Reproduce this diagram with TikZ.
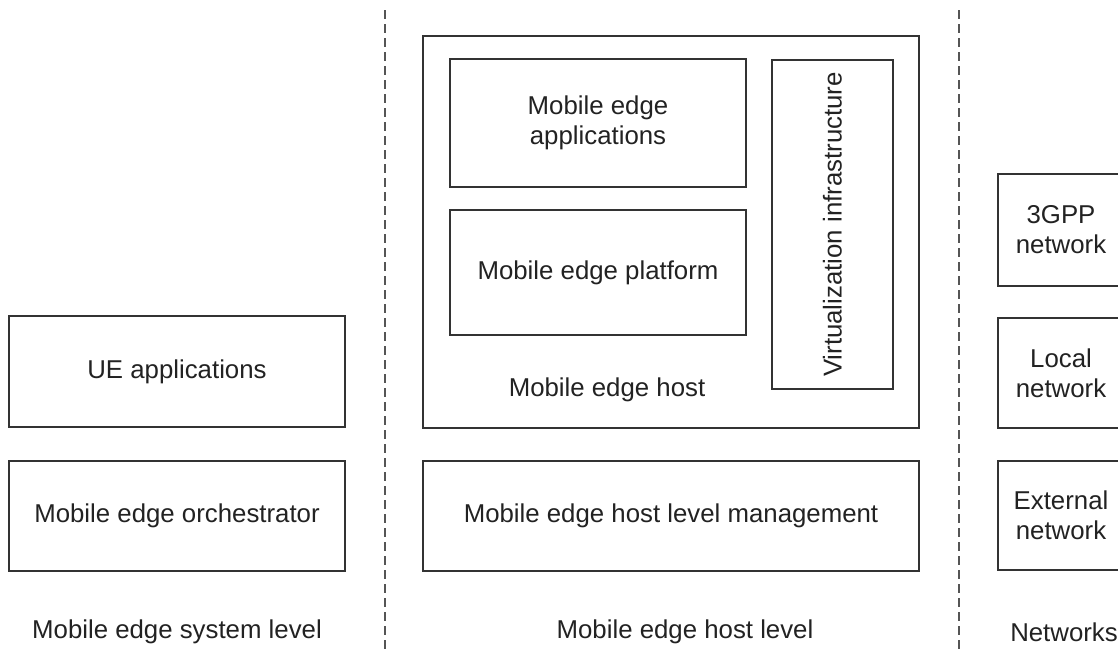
\documentclass[tikz,border=0pt]{standalone}
\usepackage{fontspec}
\setmainfont{Liberation Sans}
\begin{document}
\begin{tikzpicture}[x=1pt,y=-1pt,
  box/.style={draw=linegray,line width=1.8pt,text=txtgray,align=center,inner sep=0pt,
    font=\fontsize{25.8}{30}\selectfont},
  lbl/.style={text=txtgray,inner sep=0pt,font=\fontsize{25.8}{30}\selectfont},
  sep/.style={draw=dashgray,line width=1.4pt,dash pattern=on 9pt off 5pt}]
\definecolor{linegray}{HTML}{333333}
\definecolor{txtgray}{HTML}{222222}
\definecolor{dashgray}{HTML}{555555}
\clip (0,0) rectangle (1118,653);
\fill[white] (0,0) rectangle (1118,653);
% separators
\coordinate (s1t) at (385,10);
\coordinate (s1b) at (385,653);
\coordinate (s2t) at (959,10);
\coordinate (s2b) at (959,653);
\draw[sep] (s1t) -- (s1b);
\draw[sep] (s2t) -- (s2b);
% system level
\node[box,minimum width=336pt,minimum height=111pt] (ue) at (177,371.5) {UE applications};
\node[box,minimum width=336pt,minimum height=110pt] (orch) at (177,516) {Mobile edge orchestrator};
\node[lbl] (syslvl) at (177,632) {Mobile edge system level};
% host level
\node[box,minimum width=496pt,minimum height=392pt] (host) at (671,232) {};
\node[box,minimum width=296pt,minimum height=128pt] (apps) at (598,123) {Mobile edge\\applications};
\node[box,minimum width=296pt,minimum height=125pt] (plat) at (598,272.5) {Mobile edge platform};
\node[box,rotate=90,minimum width=329pt,minimum height=121pt] (virt) at (832.5,224.5) {Virtualization infrastructure};
\node[lbl] (hostlbl) at (607,390) {Mobile edge host};
\node[box,minimum width=496pt,minimum height=110pt] (mgmt) at (671,516) {Mobile edge host level management};
\node[lbl] (hostlvl) at (685,632) {Mobile edge host level};
% networks
\node[box,minimum width=126pt,minimum height=112pt] (gpp) at (1061,230) {3GPP\\network};
\node[box,minimum width=126pt,minimum height=110pt] (local) at (1061,373) {Local\\network};
\node[box,minimum width=126pt,minimum height=109pt] (ext) at (1061,515.5) {External\\network};
\node[lbl] (netlbl) at (1064,632) {Networks};
\end{tikzpicture}
\end{document}
